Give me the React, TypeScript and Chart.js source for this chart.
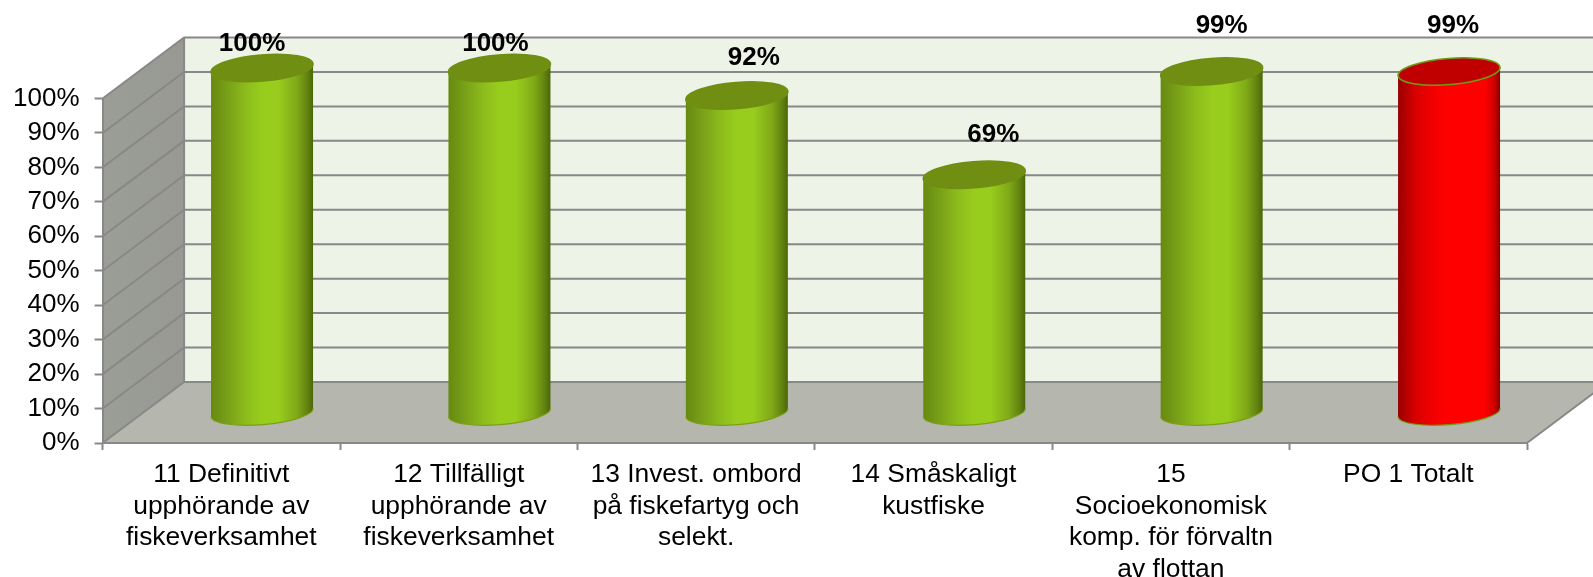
import React, { useEffect, useRef } from "react";
import { Chart, registerables } from "chart.js";

Chart.register(...registerables);

const categories = [
  ["11 Definitivt", "upphörande av", "fiskeverksamhet"],
  ["12 Tillfälligt", "upphörande av", "fiskeverksamhet"],
  ["13 Invest. ombord", "på fiskefartyg och", "selekt."],
  ["14 Småskaligt", "kustfiske"],
  ["15", "Socioekonomisk", "komp. för förvaltn", "av flottan"],
  ["PO 1 Totalt"],
];
const values = [100, 100, 92, 69, 99, 99];
const valueLabels = ["100%", "100%", "92%", "69%", "99%", "99%"];

// layout of the pseudo-3D box and manual label placement
const DEPTH_X = 81.5;
const DEPTH_Y = 61;
const LABEL_NUDGE = [
  [-50, -24],
  [-44, -24],
  [-23, -38],
  [-21, -40],
  [-30, -46],
  [-36, -46],
];
const TILT = 8.4;
const RY_TOP = 13.1;
const RY_BOTTOM = 12;
const GREEN = { stops: [[0, "#668a0e"], [0.1, "#729716"], [0.35, "#8dbd1c"], [0.5, "#98cd1d"], [0.66, "#98cd1d"], [0.84, "#80a917"], [0.95, "#5f800f"], [1, "#4a6608"]], top: "#708e12", rim: "#7d9f14" };
const RED = { stops: [[0, "#980000"], [0.18, "#dc0000"], [0.42, "#fa0000"], [0.5, "#ff0000"], [0.85, "#ff0000"], [0.95, "#c80000"], [1, "#850000"]], top: "#c00000", rim: "#6f9a12" };
const STYLES = [GREEN, GREEN, GREEN, GREEN, GREEN, RED];
const TEXT = '"Liberation Sans", Arial, sans-serif';

const boxPlugin = {
  id: "box3d",
  beforeDraw(chart: any) {
    const { ctx, chartArea: a, scales } = chart;
    const { left: l, right: r, top: t, bottom: b } = a;
    ctx.save();
    // back wall
    ctx.fillStyle = "#edf3e6";
    ctx.fillRect(l + DEPTH_X, t - DEPTH_Y, r - l, b - t);
    // side wall
    const g = ctx.createLinearGradient(l, 0, l + DEPTH_X, 0);
    g.addColorStop(0, "#9b9d97");
    g.addColorStop(1, "#979992");
    ctx.fillStyle = g;
    ctx.beginPath();
    ctx.moveTo(l, t);
    ctx.lineTo(l + DEPTH_X, t - DEPTH_Y);
    ctx.lineTo(l + DEPTH_X, b - DEPTH_Y);
    ctx.lineTo(l, b);
    ctx.closePath();
    ctx.fill();
    // floor
    ctx.fillStyle = "#b5b7af";
    ctx.beginPath();
    ctx.moveTo(l, b);
    ctx.lineTo(l + DEPTH_X, b - DEPTH_Y);
    ctx.lineTo(r + DEPTH_X, b - DEPTH_Y);
    ctx.lineTo(r, b);
    ctx.closePath();
    ctx.fill();
    // grid lines on both walls
    ctx.strokeStyle = "#888888";
    ctx.lineWidth = 2;
    for (const tick of scales.y.ticks) {
      const y = scales.y.getPixelForValue(tick.value);
      ctx.beginPath();
      ctx.moveTo(l, y);
      ctx.lineTo(l + DEPTH_X, y - DEPTH_Y);
      ctx.lineTo(r + DEPTH_X, y - DEPTH_Y);
      ctx.stroke();
    }
    // back wall left edge and floor right edge
    ctx.beginPath();
    ctx.moveTo(l + DEPTH_X, t - DEPTH_Y);
    ctx.lineTo(l + DEPTH_X, b - DEPTH_Y);
    ctx.moveTo(r, b);
    ctx.lineTo(r + DEPTH_X, b - DEPTH_Y);
    ctx.stroke();
    ctx.restore();
  },
  afterDatasetsDraw(chart: any) {
    const { ctx } = chart;
    const bars = chart.getDatasetMeta(0).data;
    bars.forEach((bar: any, i: number) => {
      const s = STYLES[i];
      const cx = bar.x + DEPTH_X / 2;
      const rx = bar.width / 2;
      const top = bar.y - DEPTH_Y / 2;
      const bot = bar.base - DEPTH_Y / 2 + 0.6;
      const rot = Math.atan2(-TILT / 2, rx);
      const erx = Math.hypot(rx, TILT / 2);
      ctx.save();
      const g = ctx.createLinearGradient(cx - rx, 0, cx + rx, 0);
      s.stops.forEach(([p, c]: any) => g.addColorStop(p, c));
      // body
      ctx.beginPath();
      ctx.ellipse(cx, bot, erx, RY_BOTTOM, rot, 0, Math.PI);
      ctx.lineTo(cx - rx, top + TILT / 2);
      ctx.ellipse(cx, top, erx, RY_TOP, rot, Math.PI, 0, true);
      ctx.closePath();
      ctx.fillStyle = g;
      ctx.fill();
      // lower rim
      ctx.beginPath();
      ctx.ellipse(cx, bot, erx, RY_BOTTOM, rot, 0, Math.PI);
      ctx.strokeStyle = s.rim;
      ctx.lineWidth = 1.2;
      ctx.stroke();
      // top cap
      ctx.beginPath();
      ctx.ellipse(cx, top, erx, RY_TOP, rot, 0, Math.PI * 2);
      ctx.fillStyle = s.top;
      ctx.fill();
      ctx.strokeStyle = s === RED ? s.rim : s.top;
      ctx.lineWidth = 1.5;
      ctx.stroke();
      // value label
      ctx.fillStyle = "#000";
      ctx.font = `bold 26px ${TEXT}`;
      ctx.textAlign = "center";
      ctx.textBaseline = "middle";
      ctx.fillText(valueLabels[i], cx + LABEL_NUDGE[i][0] + 40, top + LABEL_NUDGE[i][1]);
      ctx.restore();
    });
  },
};

export default function App() {
  const ref = useRef<HTMLCanvasElement>(null);
  useEffect(() => {
    const chart = new Chart(ref.current as HTMLCanvasElement, {
      type: "bar",
      data: {
        labels: categories,
        datasets: [
          {
            data: values,
            backgroundColor: "rgba(0,0,0,0)",
            borderWidth: 0,
            barThickness: 102,
          },
        ],
      },
      options: {
        responsive: false,
        animation: false,
        layout: { padding: { top: 98.5, right: 66, left: 0, bottom: 0 } },
        plugins: { legend: { display: false }, title: { display: false }, tooltip: { enabled: false } },
        scales: {
          x: {
            afterFit: (s: any) => { s.height = 134; },
            grid: { drawOnChartArea: false, drawTicks: true, tickLength: 7, tickColor: "#888888", tickWidth: 2, offset: true },
            border: { color: "#888888", width: 2 },
            ticks: {
              autoSkip: false,
              maxRotation: 0,
              minRotation: 0,
              color: "#000",
              padding: 9,
              font: { family: TEXT, size: 26.4 },
            },
          },
          y: {
            min: 0,
            max: 100,
            afterFit: (s: any) => { s.width = 102.6; },
            grid: { drawOnChartArea: false, drawTicks: true, tickLength: 8, tickColor: "#888888", tickWidth: 2 },
            border: { color: "#888888", width: 2 },
            ticks: {
              stepSize: 10,
              color: "#000",
              padding: 15,
              font: { family: TEXT, size: 26 },
              callback: (v: any) => `${v}%`,
            },
          },
        },
      },
      plugins: [boxPlugin],
    });
    return () => chart.destroy();
  }, []);
  return (
    <div style={{ position: "absolute", left: 0, top: 0, width: 1593, height: 577, background: "#fff" }}>
      <canvas ref={ref} width={1593} height={577} style={{ display: "block" }} />
    </div>
  );
}
